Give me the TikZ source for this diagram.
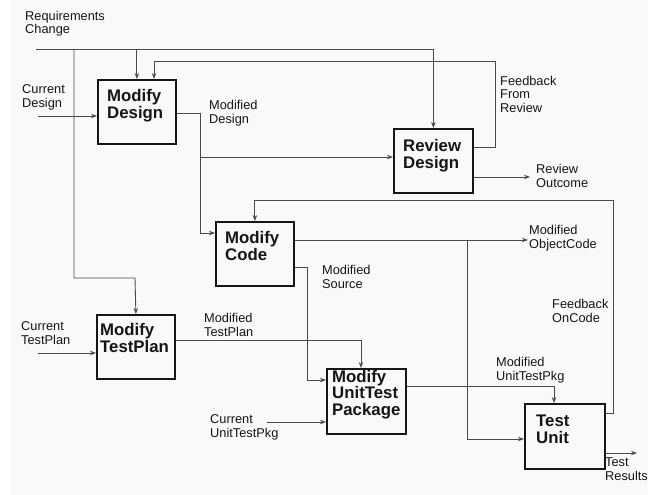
\documentclass[tikz,border=0pt]{standalone}
\usepackage{fontspec}
\setmainfont{Liberation Sans}
\usetikzlibrary{arrows.meta,calc}
\definecolor{paper}{HTML}{F9F9F9}
\definecolor{wirec}{HTML}{4A4A4A}
\definecolor{ink}{HTML}{151515}
\begin{document}
\begin{tikzpicture}[x=1pt,y=-1pt,
  proc/.style={draw=ink, line width=1.8pt, inner sep=0pt, anchor=north west},
  btxt/.style={anchor=base west, align=left, inner sep=0pt, text=ink,
    font=\fontsize{16.8}{16.5}\selectfont\bfseries},
  lbl/.style={anchor=base west, align=left, inner sep=0pt, text=ink,
    font=\fontsize{12.8}{13.3}\selectfont},
  wire/.style={draw=wirec, line width=0.9pt},
  arr/.style={wire, -{Stealth[length=6pt,width=4.5pt]}}]

% page
\fill[white] (0,0) rectangle (648,495);
\fill[paper] (11,0) rectangle (648,495);
\useasboundingbox (0,0) rectangle (648,495);

% activity boxes
\node[proc, minimum width=78pt, minimum height=64pt] (md)  at (97,79)   {};
\node[proc, minimum width=79pt, minimum height=64pt] (rd)  at (393,128) {};
\node[proc, minimum width=78pt, minimum height=64pt] (mc)  at (215,221) {};
\node[proc, minimum width=78pt, minimum height=64pt] (mtp) at (96,314)  {};
\node[proc, minimum width=79pt, minimum height=65pt] (mup) at (326,368) {};
\node[proc, minimum width=80pt, minimum height=65pt] (tu)  at (524,403) {};

% box titles (placed by the baseline of their last line)
\node[btxt] (mdT)  at ($(md.north west)+(10,39)$)  {Modify\\Design};
\node[btxt] (rdT)  at ($(rd.north west)+(10,40)$)  {Review\\Design};
\node[btxt] (mcT)  at ($(mc.north west)+(10,39)$)  {Modify\\Code};
\node[btxt] (mtpT) at ($(mtp.north west)+(4,38)$)  {Modify\\TestPlan};
\node[btxt] (mupT) at ($(mup.north west)+(6,47)$)  {Modify\\UnitTest\\Package};
\node[btxt] (tuT)  at ($(tu.north west)+(12,40)$)  {Test\\Unit};

% free ends of the flows
\coordinate (rcIn)  at (36,49);
\coordinate (rcDrop) at (74,49);
\coordinate (cdIn)  at (38,116);
\coordinate (ctpIn) at (38,353);
\coordinate (cupIn) at (267,422);
\coordinate (roOut) at (530,177);
\coordinate (ocOut) at (528,240);
\coordinate (trOut) at (637,453);
\coordinate (mdSplit) at (200,157);
\coordinate (ocTap) at (467,240);

% requirements change
\draw[arr] (rcIn) -| (rd.north);
\draw[arr] (md.north |- rcIn) -- (md.north);
\draw[arr] (rcDrop) |- (135,278) -- (mtp.north);

% feedback from review
\draw[arr] ($(rd.north east)+(0,19)$) -| (495,61) -| ($(md.north west)+(57,0)$);

% current design
\draw[arr] (cdIn) -- (cdIn -| md.west);

% modified design
\draw[wire] ($(md.north east)+(0,34)$) -| (mdSplit);
\draw[arr] (mdSplit) -- (mdSplit -| rd.west);
\draw[arr] (mdSplit) |- ($(mc.north west)+(0,12)$);

% review outcome
\draw[arr] ($(rd.north east)+(0,49)$) -- (roOut);

% modified object code
\draw[arr] ($(mc.north east)+(0,19)$) -- (ocOut);
\draw[arr] (ocTap) |- ($(tu.north west)+(0,36)$);

% modified source
\draw[arr] ($(mc.north east)+(0,46)$) -| ($(mup.north west)+(-19,12)$) -- ($(mup.north west)+(0,12)$);

% feedback on code
\draw[arr] ($(tu.north east)+(0,10)$) -| (613,200) -| (mc.north);

% test plan
\draw[arr] (ctpIn) -- (ctpIn -| mtp.west);
\draw[arr] ($(mtp.north east)+(0,26)$) -| ($(mup.north west)+(35,0)$);

% unit test package
\draw[arr] (cupIn) -- (cupIn -| mup.west);
\draw[arr] ($(mup.north east)+(0,18)$) -| ($(tu.north west)+(30,0)$);

% test results
\draw[arr] ($(tu.north east)+(0,50)$) -- (trOut);

% flow labels (placed by the baseline of their last line)
\node[lbl] (lRC)  at (25,34)  {Requirements\\Change};
\node[lbl] (lCD)  at (22,107) {Current\\Design};
\node[lbl] (lMD)  at (209,123) {Modified\\Design};
\node[lbl] (lFR)  at (500,112) {Feedback\\From\\Review};
\node[lbl] (lRO)  at (536,187) {Review\\Outcome};
\node[lbl] (lOC)  at (529,248) {Modified\\ObjectCode};
\node[lbl] (lMS)  at (322,288) {Modified\\Source};
\node[lbl] (lFC)  at (552,322) {Feedback\\OnCode};
\node[lbl] (lMT)  at (204,336) {Modified\\TestPlan};
\node[lbl] (lCT)  at (21,344)  {Current\\TestPlan};
\node[lbl] (lMU)  at (496,380) {Modified\\UnitTestPkg};
\node[lbl] (lCU)  at (210,437) {Current\\UnitTestPkg};
\node[lbl] (lTR)  at (605,480) {Test\\Results};
\end{tikzpicture}
\end{document}
